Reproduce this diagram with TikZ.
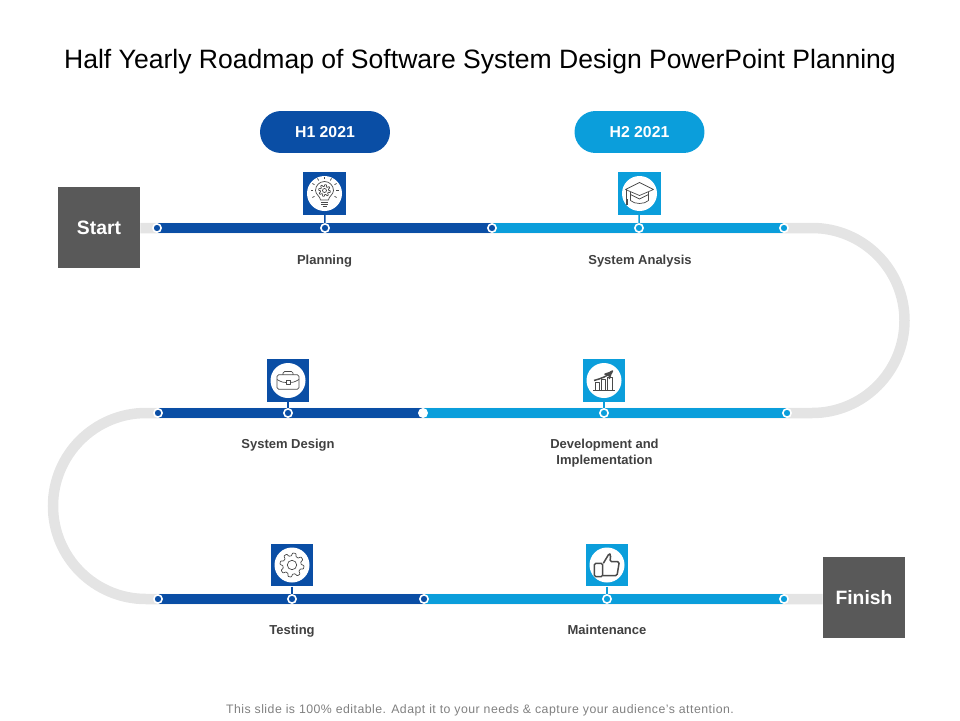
\documentclass[tikz,border=0pt]{standalone}
\usepackage{fontspec}
\setmainfont{Liberation Sans}
\usetikzlibrary{arrows,backgrounds}
\definecolor{halfone}{HTML}{0A4EA5}
\definecolor{halftwo}{HTML}{0B9EDB}
\definecolor{roadgray}{HTML}{E4E4E4}
\definecolor{boxgray}{HTML}{595959}
\definecolor{labelgray}{HTML}{404040}
\definecolor{linegray}{HTML}{4A4A4A}
\tikzset{
	track/.style={draw=roadgray,line width=0.21cm},
	bar/.style={line width=0.2cm},
	endbox/.style={fill=boxgray,text=white,font=\fontsize{11}{13}\selectfont\bfseries,minimum width=1.64cm,minimum height=1.62cm,inner sep=0pt},
	pill/.style={rounded corners=0.42cm,text=white,font=\fontsize{9}{11}\selectfont\bfseries,minimum width=2.6cm,minimum height=0.84cm,inner sep=0pt},
	marker/.style={circle,draw=white,line width=0.032cm,minimum size=0.165cm,inner sep=0pt},
	iconbox/.style={minimum width=0.85cm,minimum height=0.85cm,inner sep=0pt},
	iconline/.style={draw=linegray,line width=0.014cm,line join=round},
	stem/.style={line width=0.03cm},
	steplabel/.style={text=labelgray,font=\fontsize{7.4}{9.2}\selectfont\bfseries,align=center},
}
\begin{document}
\begin{tikzpicture}[x=0.02cm,y=-0.02cm,>=stealth']
	\useasboundingbox (0,0) rectangle (960,720);
	\node (title) at (480,62) {\fontsize{15.12}{18}\selectfont Half Yearly Roadmap of Software System Design PowerPoint Planning};
	\node (footer) [text=gray] at (480,710.5) {\fontsize{7}{9}\selectfont\addfontfeature{LetterSpace=3.9} This slide is 100\% editable. Adapt it to your needs \& capture your audience’s attention.};

	\node [pill, fill=halfone] (h1) at (325,132) {H1 2021};
	\node [pill, fill=halftwo] (h2) at (639.5,132) {H2 2021};
	\node [endbox] (start) at (99,227.5) {Start};
	\node [endbox] (finish) at (864,597.5) {Finish};

	% markers along the three rows
	\node [marker, fill=halfone] (a1) at (157,228) {};
	\node [marker, fill=halfone] (a2) at (325,228) {};
	\node [marker, fill=halfone] (a3) at (492,228) {};
	\node [marker, fill=halftwo] (a4) at (639,228) {};
	\node [marker, fill=halftwo] (a5) at (784,228) {};
	\node [marker, fill=halfone] (b1) at (158,413) {};
	\node [marker, fill=halfone] (b2) at (288,413) {};
	\node [marker, fill=white] (b3) at (423,413) {};
	\node [marker, fill=halftwo] (b4) at (604,413) {};
	\node [marker, fill=halftwo] (b5) at (787,413) {};
	\node [marker, fill=halfone] (c1) at (158,599) {};
	\node [marker, fill=halfone] (c2) at (292,599) {};
	\node [marker, fill=halfone] (c3) at (424,599) {};
	\node [marker, fill=halftwo] (c4) at (607,599) {};
	\node [marker, fill=halftwo] (c5) at (784,599) {};

	\begin{pgfonlayer}{background}
		\draw [track] (a1.center -| start.east) -- (812,228) arc[start angle=-90,end angle=90,radius=92.5] -- (146,413)
			arc[start angle=-90,end angle=-270,radius=93] -- (c5.center) -- (c5.center -| finish.west);
		\draw [bar, halfone] (a1.center) -- (a3.center);
		\draw [bar, halftwo] (a3.center) -- (a5.center);
		\draw [bar, halfone] (b1.center) -- (b3.center);
		\draw [bar, halftwo] (b3.center) -- (b5.center);
		\draw [bar, halfone] (c1.center) -- (c3.center);
		\draw [bar, halftwo] (c3.center) -- (c5.center);
	\end{pgfonlayer}

	% icon squares
	\node [iconbox, fill=halfone] (plan) at (324.5,193.5) {};
	\node [iconbox, fill=halftwo] (analysis) at (639.5,193.5) {};
	\node [iconbox, fill=halfone] (design) at (288,380.5) {};
	\node [iconbox, fill=halftwo] (develop) at (604,380.5) {};
	\node [iconbox, fill=halfone] (testing) at (292,565) {};
	\node [iconbox, fill=halftwo] (maintain) at (607,565) {};
	\foreach \n in {plan,analysis,design,develop,testing,maintain}
		\fill [white] (\n.center) circle (17.5);

	\draw [stem, halfone] (plan) -- (a2);
	\draw [stem, halftwo] (analysis) -- (a4);
	\draw [stem, halfone] (design) -- (b2);
	\draw [stem, halftwo] (develop) -- (b4);
	\draw [stem, halfone] (testing) -- (c2);
	\draw [stem, halftwo] (maintain) -- (c4);

	% bulb
	\begin{scope}[shift={(plan.center)},iconline]
		\draw (-4,6.5) .. controls (-4,3) and (-9,1) .. (-9,-3) arc[start angle=180,end angle=360,radius=9] .. controls (9,1) and (4,3) .. (4,6.5) -- cycle;
		\draw (-3.5,8.5) -- (3.5,8.5) (-3.5,10.5) -- (3.5,10.5) (-2,12.5) -- (2,12.5);
		\begin{scope}[shift={(0,-3)}]
			\draw plot [domain=0:360,samples=97] (\x:{5+0.9*max(-1,min(1,2*sin(8*\x)))});
			\draw (0,0) circle (2);
			\foreach \a in {-210,-180,...,30}
				\draw (\a:11.5) -- (\a:14);
		\end{scope}
	\end{scope}
	% cap
	\begin{scope}[shift={(analysis.center)},iconline]
		\draw (-14,-4) -- (0,-11) -- (14,-4) -- (0,2) -- cycle;
		\draw (-9,-1.5) -- (-9,7) .. controls (-5,11) and (5,11) .. (9,7) -- (9,-1.5);
		\draw (-9,1) -- (0,5.5) -- (9,1);
		\draw (-13,-4) -- (-13,5);
		\fill [linegray] (-14,5) rectangle (-12,11);
	\end{scope}
	% briefcase
	\begin{scope}[shift={(design.center)},iconline]
		\draw [rounded corners=0.03cm] (-11,-5.7) rectangle (11,8.7);
		\draw [rounded corners=0.03cm] (-5,-5.7) -- (-5,-9) -- (5,-9) -- (5,-5.7);
		\draw (-11,-1) .. controls (-6,2) and (-4,2) .. (-2,2) (2,2) .. controls (4,2) and (6,2) .. (11,-1);
		\draw (-2,0) rectangle (2,3.5);
	\end{scope}
	% chart
	\begin{scope}[shift={(develop.center)},iconline]
		\draw (-11,9.7) -- (11,9.7);
		\draw (-8.7,9.7) -- (-8.7,1.7) -- (-4.3,1.7) -- (-4.3,9.7);
		\draw (-2.7,9.7) -- (-2.7,-1) -- (1.3,-1) -- (1.3,9.7);
		\draw (3.3,9.7) -- (3.3,-3.3) -- (8,-3.3) -- (8,9.7);
		\draw [->, line width=0.03cm] (-10,0) .. controls (-3,-2) and (3,-4) .. (9,-10);
	\end{scope}
	% gear
	\begin{scope}[shift={(testing.center)},iconline]
		\draw plot [domain=0:360,samples=145] (\x:{10.6+1.4*max(-1,min(1,2*sin(8*\x)))});
		\draw (0,0) circle (4.7);
	\end{scope}
	% thumb
	\begin{scope}[shift={(maintain.center)},iconline,line width=0.03cm]
		\draw [rounded corners=0.03cm] (-12.7,-1.7) rectangle (-4.3,11.7);
		\draw [rounded corners=0.03cm] (-3.7,-1.7) -- (2.3,-11.7) -- (3.7,-10) -- (3,-3.3) -- (12.3,-3.3) -- (10,10.7) -- (-4,10.7);
	\end{scope}

	\node [steplabel, anchor=base] (planlabel) at (324.5,264) {Planning};
	\node [steplabel, anchor=base] (analysislabel) at (640,264) {System Analysis};
	\node [steplabel, anchor=base] (designlabel) at (288,448) {System Design};
	\node [steplabel, anchor=north] (developlabel) at (604.5,432.5) {Development and\\Implementation};
	\node [steplabel, anchor=base] (testinglabel) at (292,634) {Testing};
	\node [steplabel, anchor=base] (maintainlabel) at (607,634) {Maintenance};
\end{tikzpicture}
\end{document}
